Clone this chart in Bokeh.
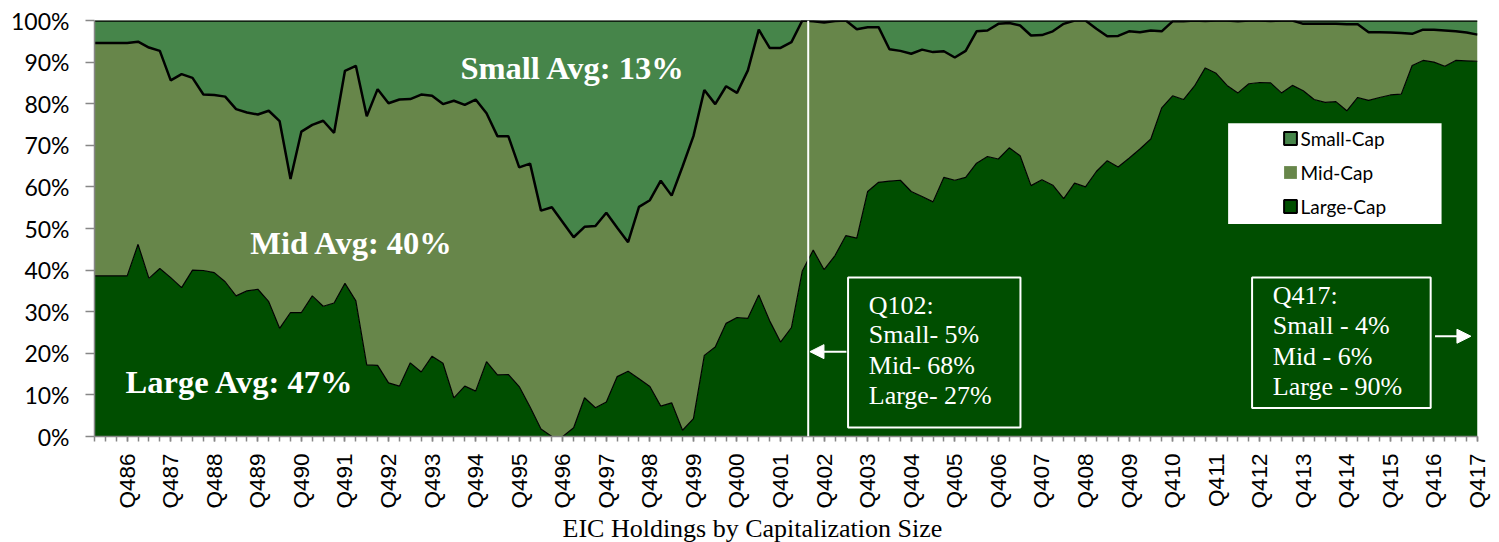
import numpy as np
from bokeh.plotting import figure
from bokeh.models import (Range1d, FixedTicker, Legend, LegendItem, Label, Arrow,
                          NormalHead, ColumnDataSource, Span, Title)
from bokeh.embed import file_html
from bokeh.resources import INLINE

# ---------------- data ----------------
quarters = [f"Q{q}{y % 100:02d}" for y in range(1986, 2018) for q in range(1, 5)]

large = [38.6, 38.6, 38.6, 38.6, 46.2, 38.0, 40.4, 38.2, 35.8, 40.0, 39.9, 39.4, 37.2, 33.8, 35.0, 35.4,
         32.4, 26.0, 29.8, 29.8, 33.8, 31.3, 32.1, 36.8, 32.6, 17.2, 17.1, 12.9, 12.1, 17.7, 15.5, 19.3,
         17.6, 9.3, 12.1, 10.9, 18.0, 14.8, 14.9, 12.0, 7.1, 1.8, 0.0, 0.0, 2.1, 9.3, 6.9, 8.3,
         14.4, 15.7, 13.9, 12.0, 7.3, 8.1, 1.5, 4.3, 19.5, 21.5, 27.2, 28.6, 28.4, 34.0, 27.8, 22.7,
         26.2, 39.8, 44.8, 40.1, 43.5, 48.3, 47.7, 58.9, 61.1, 61.4, 61.6, 58.9, 57.7, 56.4, 62.3, 61.6,
         62.3, 65.7, 67.3, 66.7, 69.4, 67.5, 60.3, 61.7, 60.4, 57.2, 60.9, 60.0, 63.7, 66.3, 64.8, 66.9,
         69.1, 71.5, 79.0, 81.9, 81.0, 84.2, 88.6, 87.3, 84.4, 82.6, 84.8, 85.1, 85.0, 82.6, 84.4, 83.1,
         81.0, 80.3, 80.5, 78.3, 81.5, 80.8, 81.5, 82.1, 82.3, 89.2, 90.4, 90.0, 89.0, 90.4, 90.3, 90.2]

mid = [56.0, 56.0, 56.0, 56.0, 48.7, 55.5, 52.3, 47.4, 51.3, 46.2, 42.3, 42.7, 44.5, 44.9, 42.9, 42.0,
       45.9, 49.8, 32.1, 43.5, 41.1, 44.6, 40.9, 51.1, 56.5, 59.8, 66.4, 67.2, 68.9, 63.4, 66.7, 62.6,
       62.3, 71.4, 67.6, 70.1, 59.7, 57.4, 57.3, 52.7, 58.5, 52.5, 55.1, 51.5, 45.8, 41.1, 43.7, 45.5,
       35.8, 31.0, 41.3, 44.8, 54.2, 49.8, 63.4, 67.9, 63.8, 58.4, 57.0, 54.0, 59.6, 63.8, 65.6, 70.7,
       68.6, 60.2, 55.0, 59.4, 56.4, 51.7, 50.2, 39.5, 37.3, 31.7, 31.1, 33.1, 35.3, 36.0, 30.3, 29.5,
       30.4, 31.7, 30.3, 32.5, 30.0, 31.3, 36.1, 34.8, 37.0, 42.0, 39.1, 40.0, 34.3, 29.9, 31.5, 30.5,
       28.1, 26.1, 18.4, 17.9, 18.8, 15.8, 11.3, 12.7, 15.6, 17.2, 15.2, 14.9, 14.9, 17.4, 15.6, 16.1,
       18.2, 18.9, 18.7, 20.8, 17.6, 16.4, 15.7, 15.0, 14.7, 7.6, 7.4, 7.8, 8.6, 7.0, 6.8, 6.4]

small = [5.4, 5.4, 5.4, 5.4, 5.1, 6.5, 7.3, 14.4, 12.9, 13.8, 17.8, 17.9, 18.3, 21.3, 22.1, 22.6,
         21.7, 24.2, 38.1, 26.7, 25.1, 24.1, 27.0, 12.1, 10.9, 23.0, 16.5, 19.9, 19.0, 18.9, 17.8, 18.1,
         20.1, 19.3, 20.3, 19.0, 22.3, 27.8, 27.8, 35.3, 34.4, 45.7, 44.9, 48.5, 52.1, 49.6, 49.4, 46.2,
         49.8, 53.3, 44.8, 43.2, 38.5, 42.1, 35.1, 27.8, 16.7, 20.1, 15.8, 17.4, 12.0, 2.2, 6.6, 6.6,
         5.2, 0.0, 0.2, 0.5, 0.1, 0.0, 2.1, 1.6, 1.6, 6.9, 7.3, 8.0, 7.0, 7.6, 7.4, 8.9,
         7.3, 2.6, 2.4, 0.8, 0.6, 1.2, 3.6, 3.5, 2.6, 0.8, 0.0, 0.0, 2.0, 3.8, 3.7, 2.6,
         2.8, 2.4, 2.6, 0.2, 0.2, 0.0, 0.1, 0.0, 0.0, 0.2, 0.0, 0.0, 0.1, 0.0, 0.0, 0.8,
         0.8, 0.8, 0.8, 0.9, 0.9, 2.8, 2.8, 2.9, 3.0, 3.2, 2.2, 2.2, 2.4, 2.6, 2.9, 3.4]

series_names = ["Small-Cap", "Mid-Cap", "Large-Cap"]
y_ticks = list(range(0, 101, 10))

# ---------------- styles ----------------
C_SMALL = "#46854A"
C_MID = "#67864A"
C_LARGE = "#004E00"
AXIS_GREY = "#878787"

n = len(quarters)
xs = np.arange(n)
L = np.array(large)
LM = L + np.array(mid)
TOP = LM + np.array(small)
src = ColumnDataSource(dict(x=xs, zero=np.zeros(n), L=L, LM=LM, TOP=TOP))

p = figure(width=1499, height=542, output_backend="svg", toolbar_location=None,
           x_range=Range1d(0, n - 1), y_range=Range1d(0, 100),
           min_border_left=94, min_border_right=22, min_border_top=20, min_border_bottom=104)
p.outline_line_color = None
p.grid.visible = False
p.background_fill_color = "white"
p.border_fill_color = "white"

p.varea(x="x", y1="zero", y2="L", source=src, fill_color=C_LARGE)
p.varea(x="x", y1="L", y2="LM", source=src, fill_color=C_MID)
p.varea(x="x", y1="LM", y2="TOP", source=src, fill_color=C_SMALL)
p.line(x="x", y="TOP", source=src, line_color="black", line_width=2.5)
p.line(x="x", y="LM", source=src, line_color="black", line_width=2.5)
p.line(x="x", y="L", source=src, line_color="black", line_width=1.2)

# vertical marker line
p.add_layout(Span(location=65.54, dimension="height", line_color="white", line_width=2))

# annotation boxes
p.quad(left=[69.2, 106.3], right=[85.03, 122.7], top=[38.2, 38.2], bottom=[2.15, 6.87],
       fill_color=C_LARGE, line_color="white", line_width=2)
# legend background box
p.quad(left=[104.1], right=[123.7], top=[75.3], bottom=[51.1],
       fill_color="white", line_color=None)

# ---------------- axes ----------------
label_ticks = list(range(3, n, 4))
p.xaxis.ticker = FixedTicker(ticks=label_ticks, minor_ticks=list(range(n)))
p.xaxis.major_label_overrides = {i: quarters[i] for i in label_ticks}
p.xaxis.major_label_orientation = np.pi / 2
p.xaxis.major_tick_out = 5
p.xaxis.major_tick_in = 0
p.xaxis.minor_tick_out = 5
p.xaxis.minor_tick_in = 0
p.xaxis.major_label_standoff = 12
p.xaxis.major_label_text_font = "Liberation Sans"
p.xaxis.major_label_text_font_size = "22.5px"
p.xaxis.major_label_text_color = "black"

p.yaxis.ticker = FixedTicker(ticks=y_ticks)
p.yaxis.major_label_overrides = {v: f"{v}%" for v in y_ticks}
p.yaxis.major_tick_out = 9
p.yaxis.major_tick_in = 0
p.yaxis.minor_tick_line_color = None
p.yaxis.major_label_standoff = 16
p.yaxis.major_label_text_font = "Lato"
p.yaxis.major_label_text_font_size = "23px"
p.yaxis.major_label_text_color = "black"

for ax in (p.xaxis, p.yaxis):
    ax.axis_line_color = AXIS_GREY
    ax.axis_line_width = 1.5
    ax.major_tick_line_color = AXIS_GREY
    ax.major_tick_line_width = 1.5
p.xaxis.minor_tick_line_color = AXIS_GREY
p.xaxis.minor_tick_line_width = 1.5

# chart title below the axis
p.add_layout(Title(text="EIC Holdings by Capitalization Size", align="left", offset=468,
                   text_font="Liberation Serif", text_font_size="26px",
                   text_font_style="normal", text_color="black", standoff=0), "below")

# ---------------- legend ----------------
es = ColumnDataSource(dict(l=[np.nan], r=[np.nan], t=[np.nan], b=[np.nan]))
d_small = p.quad(left="l", right="r", top="t", bottom="b", source=es,
                 fill_color=C_SMALL, line_color="black", line_width=2)
d_mid = p.quad(left="l", right="r", top="t", bottom="b", source=es,
               fill_color=C_MID, line_color=None)
d_large = p.quad(left="l", right="r", top="t", bottom="b", source=es,
                 fill_color=C_LARGE, line_color="black", line_width=2)
legend = Legend(items=[LegendItem(label=series_names[0], renderers=[d_small]),
                       LegendItem(label=series_names[1], renderers=[d_mid]),
                       LegendItem(label=series_names[2], renderers=[d_large])],
                location=(1182.6, 213), orientation="vertical",
                glyph_width=16, glyph_height=16, label_height=24, label_standoff=3,
                spacing=10, padding=5, margin=0,
                label_text_font="Lato", label_text_font_size="19px", label_text_color="black",
                background_fill_alpha=0, border_line_alpha=0)
p.add_layout(legend)

# ---------------- text annotations ----------------
def lab(x, y, text, size, bold=False, color="white", align="left"):
    p.add_layout(Label(x=x, y=y, text=text, text_font="Liberation Serif",
                       text_font_size=size, text_font_style="bold" if bold else "normal",
                       text_color=color, text_align=align, text_baseline="alphabetic"))

lab(33.6, 88.6, "Small Avg: 13%", "32.5px", bold=True)
lab(14.3, 46.4, "Mid Avg: 40%", "32.5px", bold=True)
lab(2.85, 13.0, "Large Avg: 47%", "32.5px", bold=True)

for t, yy in zip(["Q102:", "Small- 5%", "Mid- 68%", "Large- 27%"], [31.6, 24.4, 17.1, 9.9]):
    lab(71.1, yy, t, "26px")
for t, yy in zip(["Q417:", "Small - 4%", "Mid - 6%", "Large - 90%"], [34.0, 26.7, 19.3, 11.9]):
    lab(108.2, yy, t, "26px")

p.add_layout(Arrow(end=NormalHead(size=14, fill_color="white", line_color="white"),
                   x_start=69.05, y_start=20.4, x_end=65.7, y_end=20.4,
                   line_color="white", line_width=2))
p.add_layout(Arrow(end=NormalHead(size=14, fill_color="white", line_color="white"),
                   x_start=123.1, y_start=24.1, x_end=126.4, y_end=24.1,
                   line_color="white", line_width=2))

open("out.html", "w").write(file_html(p, INLINE))
